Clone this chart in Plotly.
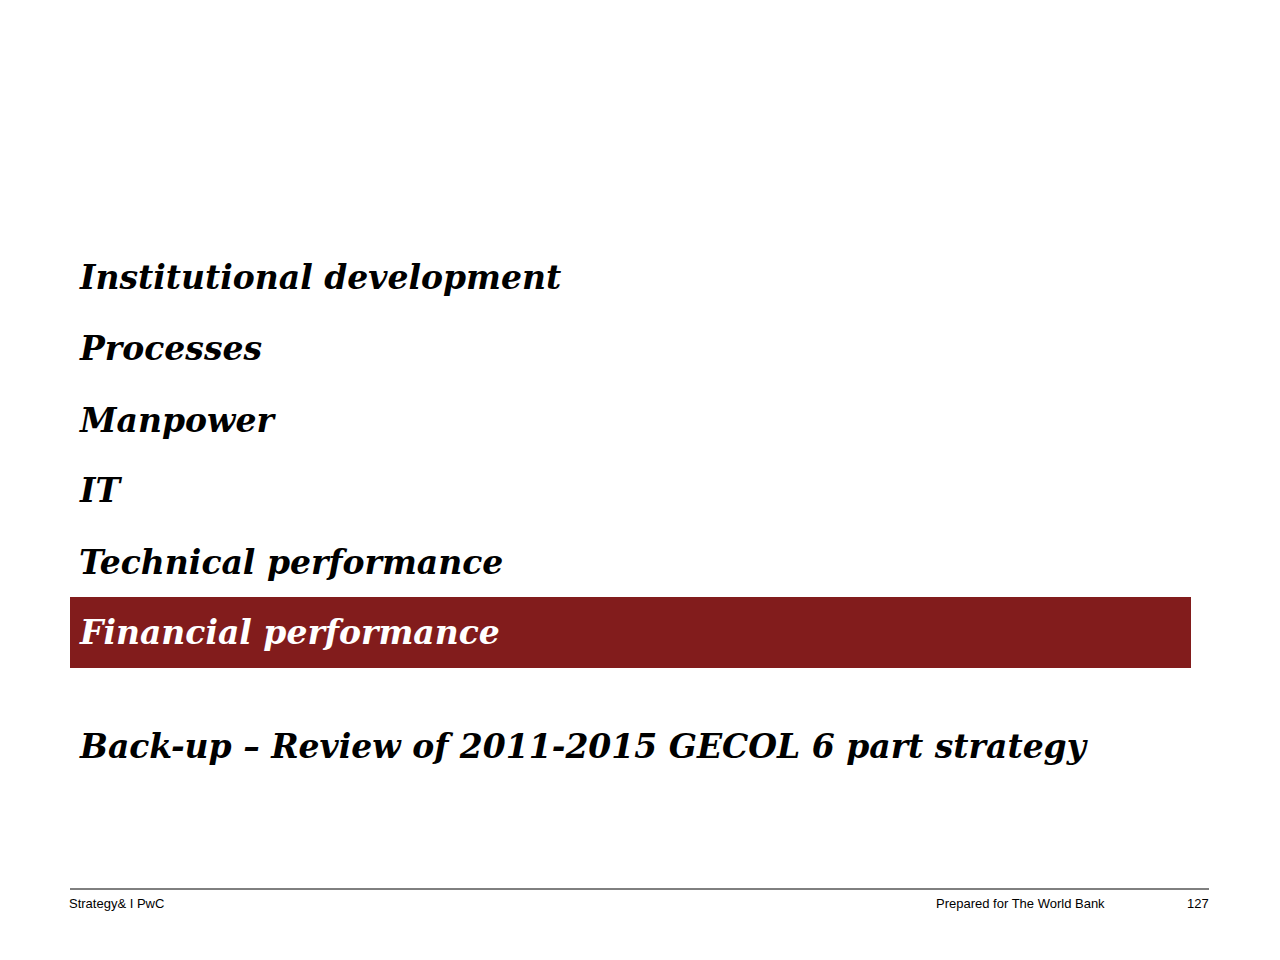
import plotly.graph_objects as go

items = ["Institutional development", "Processes", "Manpower", "IT",
         "Technical performance", "Financial performance",
         "Back-up – Review of 2011-2015 GECOL 6 part strategy"]
item_y = [277, 348, 420, 490, 562, 632, 746]
highlight = "Financial performance"
footer_left = "Strategy& I PwC"
footer_mid = "Prepared for The World Bank"
page = "127"

O = 8  # page body offset compensation

fig = go.Figure()
fig.update_layout(width=1280, height=960, margin=dict(l=0, r=0, t=0, b=0),
                  paper_bgcolor="white", plot_bgcolor="white", showlegend=False,
                  xaxis=dict(range=[O, 1280 + O], visible=False, fixedrange=True),
                  yaxis=dict(range=[960 + O, O], visible=False, fixedrange=True))

fig.add_shape(type="rect", x0=70, x1=1191, y0=597, y1=668,
              fillcolor="#821C1C", line_width=0, layer="below")
fig.add_shape(type="line", x0=70, x1=1209, y0=889, y1=889,
              line=dict(color="black", width=1))

for t, y in zip(items, item_y):
    fig.add_annotation(x=77, y=y, text=f"<b><i>{t}</i></b>", showarrow=False,
                       xanchor="left", yanchor="middle",
                       font=dict(family="DejaVu Serif", size=33,
                                 color="white" if t == highlight else "black"))

for t, x, anc in [(footer_left, 67, "left"), (footer_mid, 1107, "right"), (page, 1211, "right")]:
    fig.add_annotation(x=x, y=903, text=t, showarrow=False, xanchor=anc, yanchor="middle",
                       font=dict(family="Liberation Sans", size=13, color="black"))

fig.write_html("out.html")
